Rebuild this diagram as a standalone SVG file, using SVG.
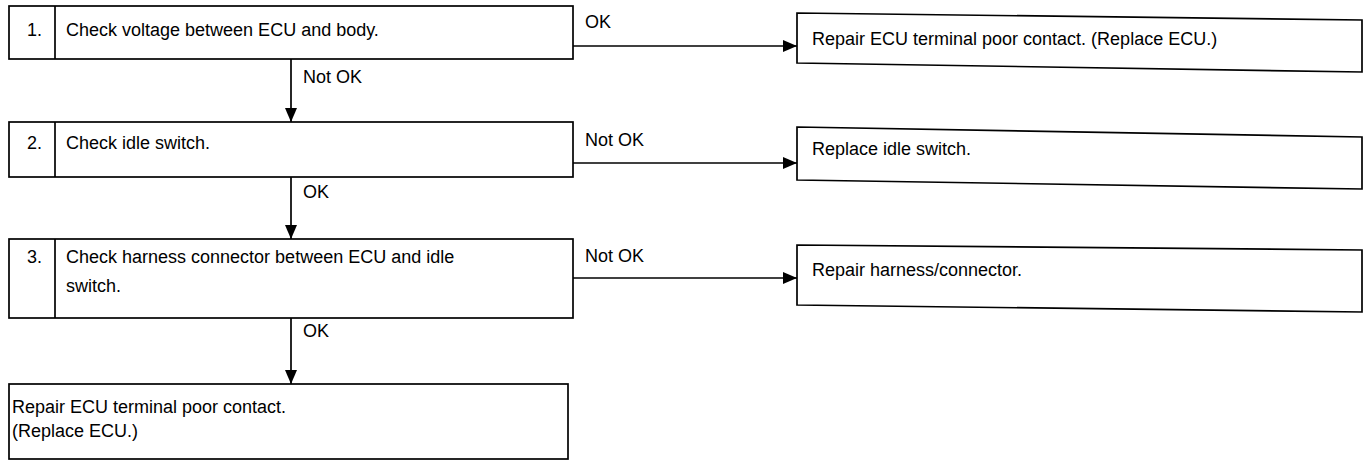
<svg xmlns="http://www.w3.org/2000/svg" width="1370" height="462" viewBox="0 0 1370 462">
<style>
.box{fill:#fff;stroke:#000;stroke-width:1.7}
.ln{fill:none;stroke:#000;stroke-width:1.7}
text{font-family:"Liberation Sans",Arial,sans-serif;font-size:18px;fill:#000}
</style>
<defs>
<marker id="ah" markerUnits="userSpaceOnUse" markerWidth="14" markerHeight="14" viewBox="0 0 14 14" refX="14" refY="7" orient="auto">
<path d="M0,1 L14,7 L0,13 Z" fill="#000"/>
</marker>
</defs>
<g id="connectors">
<path class="ln" d="M573,46 H797" marker-end="url(#ah)"/>
<path class="ln" d="M291,59 V122" marker-end="url(#ah)"/>
<path class="ln" d="M573,163 H797" marker-end="url(#ah)"/>
<path class="ln" d="M291,177 V239" marker-end="url(#ah)"/>
<path class="ln" d="M573,278 H797" marker-end="url(#ah)"/>
<path class="ln" d="M291,318 V384" marker-end="url(#ah)"/>
<text x="585" y="28">OK</text>
<text x="303" y="83">Not OK</text>
<text x="585" y="146">Not OK</text>
<text x="303" y="198">OK</text>
<text x="585" y="262">Not OK</text>
<text x="303" y="337">OK</text>
</g>
<g id="step1">
<rect class="box" x="9" y="6" width="564" height="53"/>
<line class="ln" x1="55" y1="6" x2="55" y2="59"/>
<text x="27" y="36">1.</text>
<text x="66" y="36">Check voltage between ECU and body.</text>
</g>
<g id="result1">
<polygon class="box" points="797,13 1362,20 1362,72 797,63"/>
<text x="812" y="45">Repair ECU terminal poor contact. (Replace ECU.)</text>
</g>
<g id="step2">
<rect class="box" x="9" y="122" width="564" height="55"/>
<line class="ln" x1="55" y1="122" x2="55" y2="177"/>
<text x="27" y="149">2.</text>
<text x="66" y="149">Check idle switch.</text>
</g>
<g id="result2">
<polygon class="box" points="797,127 1362,137 1362,189 797,180"/>
<text x="812" y="155">Replace idle switch.</text>
</g>
<g id="step3">
<rect class="box" x="9" y="239" width="564" height="79"/>
<line class="ln" x1="55" y1="239" x2="55" y2="318"/>
<text x="27" y="263">3.</text>
<text x="66" y="263">Check harness connector between ECU and idle</text>
<text x="66" y="292">switch.</text>
</g>
<g id="result3">
<polygon class="box" points="797,245 1362,250 1362,312 797,305"/>
<text x="812" y="276">Repair harness/connector.</text>
</g>
<g id="final">
<rect class="box" x="9" y="384" width="559" height="75"/>
<text x="12" y="413">Repair ECU terminal poor contact.</text>
<text x="12" y="437">(Replace ECU.)</text>
</g>
</svg>
